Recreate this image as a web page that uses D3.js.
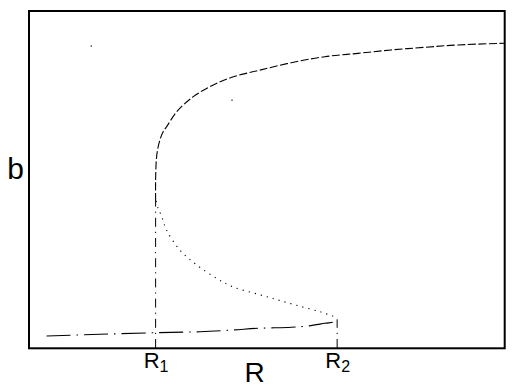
<!DOCTYPE html>
<html>
<head>
<meta charset="utf-8">
<script src="https://cdn.jsdelivr.net/npm/d3@7"></script>
<style>
  html, body { margin: 0; padding: 0; background: #fff; }
  svg { display: block; }
  text { font-family: "Liberation Sans", Arial, sans-serif; fill: #000; }
</style>
</head>
<body>
<svg id="chart" width="518" height="387"></svg>
<script>
// ---- data (R, b) in arbitrary units ----
const R1 = 26.5;
const R2 = 64.8;
const tickValues = [R1, R2];
const tickLabels = [["R", "1"], ["R", "2"]];
const xLabel = "R";
const yLabel = "b";

// stable upper branch (dashed)
const upperR = [26.5, 26.5, 26.65, 26.9, 27.4, 28.06, 28.84, 30.95, 34.45, 38.67, 42.9, 48.5, 55.1, 62.2, 69.2, 76.2, 83.3, 90.3, 100];
const upperB = [43.75, 50.0, 55.95, 58.9, 61.9, 64.3, 65.9, 70.3, 74.8, 78.3, 80.7, 82.7, 84.9, 86.7, 87.7, 88.7, 89.5, 90.2, 90.7];

// unstable middle branch (dotted)
const middleR = [26.6, 27.0, 27.8, 28.8, 31.6, 35.2, 39.4, 42.8, 48.1, 52.3, 56.5, 61.4, 64.3];
const middleB = [43.75, 41.7, 39.1, 35.1, 29.2, 24.7, 20.7, 18.2, 16.0, 14.3, 12.6, 10.7, 9.3];

// stable lower branch (dash-dot)
const lowerR = [3.5, 14.8, 26.5, 35.9, 42.8, 48.1, 55.1, 58.6, 62.2, 64.3, 64.8];
const lowerB = [3.57, 4.08, 4.55, 4.85, 5.36, 5.86, 6.16, 6.55, 7.35, 7.83, 8.54];

// fold markers (vertical dash-dot lines) : top value of each
const foldTopB = [43.75, 8.54];

// stray points
const strayR = [12.9, 42.6];
const strayB = [89.9, 73.8];

// ---- layout ----
const svg = d3.select("#chart");
const x = d3.scaleLinear().domain([0, 100]).range([30, 504]);
const y = d3.scaleLinear().domain([0, 100]).range([348, 12]);

const zip = (a, b) => a.map((v, i) => [v, b[i]]);
const lineX = d3.line().x(d => x(d[0])).y(d => y(d[1])).curve(d3.curveCatmullRom);

// vertical fold lines
svg.selectAll("line.fold").data(tickValues).enter().append("line")
  .attr("class", "fold")
  .attr("x1", d => x(d)).attr("x2", d => x(d))
  .attr("y1", y(0)).attr("y2", (d, i) => y(foldTopB[i]))
  .attr("stroke", "#000").attr("stroke-width", 1)
  .attr("stroke-dasharray", "9,5,1.2,5");

// upper branch
svg.append("path")
  .attr("d", lineX(zip(upperR, upperB)))
  .attr("fill", "none").attr("stroke", "#000").attr("stroke-width", 1.1)
  .attr("stroke-dasharray", "8,2.5");

// middle branch
svg.append("path")
  .attr("d", lineX(zip(middleR, middleB)))
  .attr("fill", "none").attr("stroke", "#000").attr("stroke-width", 1.1)
  .attr("stroke-dasharray", "1.2,5");

// lower branch
svg.append("path")
  .attr("d", lineX(zip(lowerR, lowerB)))
  .attr("fill", "none").attr("stroke", "#000").attr("stroke-width", 1.1)
  .attr("stroke-dasharray", "24,6,1.5,6");

// stray dots
svg.selectAll("rect.stray").data(zip(strayR, strayB)).enter().append("rect")
  .attr("x", d => x(d[0]) - 0.5).attr("y", d => y(d[1]) - 0.5)
  .attr("width", 1.2).attr("height", 1.2).attr("fill", "#000");

// frame
svg.append("rect")
  .attr("x", 29).attr("y", 11)
  .attr("width", 504.7 - 29).attr("height", 348.3 - 11)
  .attr("fill", "none").attr("stroke", "#000").attr("stroke-width", 2);

// x axis tick labels
const xAxis = d3.axisBottom(x).tickValues(tickValues).tickSize(0).tickFormat("");
const gx = svg.append("g").attr("transform", `translate(0,${y(0)})`).call(xAxis);
gx.select(".domain").remove();
gx.selectAll(".tick").each(function(d, i) {
  const t = d3.select(this).append("text")
    .attr("y", 20).attr("text-anchor", "middle")
    .style("font-size", "22px");
  t.append("tspan").text(tickLabels[i][0]);
  t.append("tspan").attr("dy", 4).style("font-size", "16px").text(tickLabels[i][1]);
});

// axis labels
svg.append("text").attr("x", 254.5).attr("y", 382)
  .attr("text-anchor", "middle").style("font-size", "28px").text(xLabel);
svg.append("text").attr("x", 15.5).attr("y", 179)
  .attr("text-anchor", "middle").style("font-size", "30px").text(yLabel);
</script>
</body>
</html>
